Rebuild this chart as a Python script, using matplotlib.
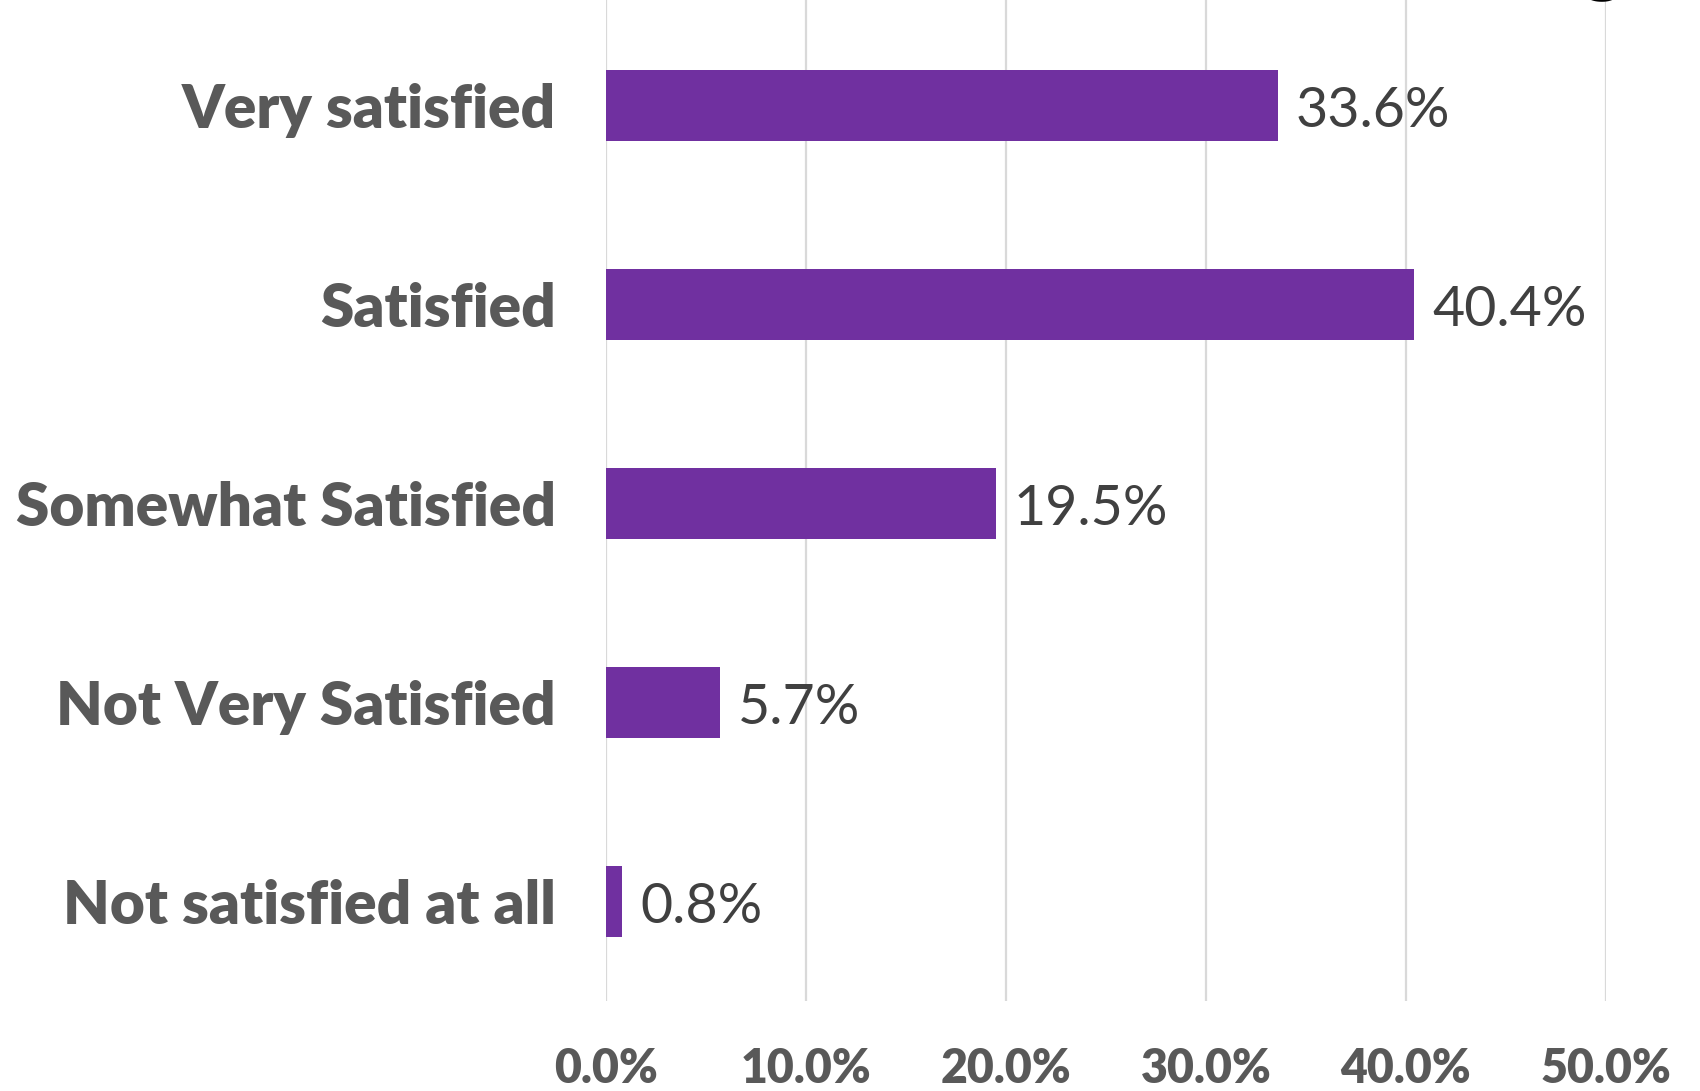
import matplotlib.pyplot as plt
import numpy as np

# satisfaction survey results
categories = ["Very satisfied", "Satisfied", "Somewhat Satisfied",
              "Not Very Satisfied", "Not satisfied at all"]
shares = [33.6, 40.4, 19.5, 5.7, 0.8]
tick_values = [0, 10, 20, 30, 40, 50]
tick_labels = ["0.0%", "10.0%", "20.0%", "30.0%", "40.0%", "50.0%"]

bar_color = "#7030A0"
grid_color = "#D9D9D9"

W, H = 1700, 1091
fig = plt.figure(figsize=(W / 100, H / 100), dpi=100)
ax = fig.add_axes([606 / W, 1 - 1001 / H, 1000 / W, 1001 / H])

y = np.arange(len(categories))
ax.barh(y, shares, height=0.355, color=bar_color, zorder=3)
# a little extra room above the first bar so the grid reaches the top edge
ax.set_ylim(len(categories) - 0.5, -0.5 - 6.3 / 198.8)
ax.set_xlim(0, 50)

ax.set_xticks(tick_values)
ax.set_xticklabels(tick_labels, fontsize=33.5, fontweight="heavy",
                   color="#595959", family="Lato")
ax.set_yticks(y)
ax.set_yticklabels(categories, fontsize=43.5, fontweight="heavy",
                   color="#595959", family="Lato")
ax.tick_params(axis="both", length=0)
ax.tick_params(axis="y", pad=36)
ax.tick_params(axis="x", pad=33)

ax.grid(axis="x", color=grid_color, linewidth=1.6, zorder=0)
for s in ax.spines.values():
    s.set_visible(False)

for yi, v in zip(y, shares):
    ax.text(v + 0.9, yi + 0.03, f"{v:.1f}%", va="center", ha="left",
            fontsize=40, color="#404040", family="Lato")

# tail of the heading letter running off the top edge
fig.text(1625 / W, 1 + 13.5 / H, "g", ha="right", va="baseline",
         fontsize=60, fontweight="bold", color="black", family="Lato")

fig.savefig("out.png", dpi=100)
